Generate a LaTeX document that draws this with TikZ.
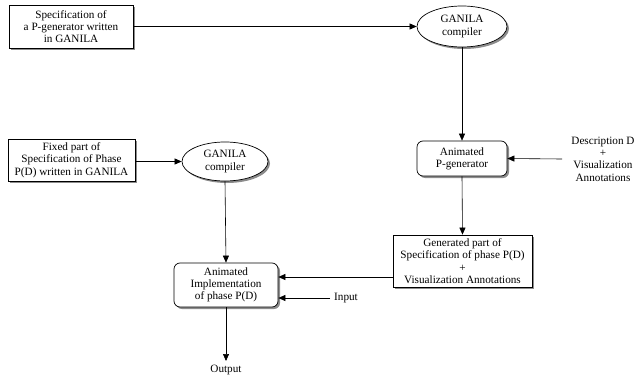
\documentclass[tikz,border=0pt]{standalone}
\usepackage{fontspec}
\setmainfont{Liberation Serif}
\usetikzlibrary{shapes.geometric,arrows.meta,shadows}
\begin{document}
\begin{tikzpicture}[x=1pt,y=-1pt,
  base/.style={font=\fontsize{11.2}{12.3}\selectfont, align=center, inner sep=0pt},
  shad/.style={drop shadow={shadow xshift=2pt,shadow yshift=-2pt,fill=black!45,opacity=1}},
  sqbox/.style={base, draw, line width=0.7pt, fill=white, shad},
  rbox/.style={sqbox, rounded corners=6pt},
  oval/.style={base, ellipse, draw, line width=0.7pt, fill=white, shad},
  arr/.style={-{Triangle[length=7pt,width=6pt]}, line width=0.6pt}
]
\useasboundingbox (0,0) rectangle (636,377);
\node[sqbox, minimum width=124pt, minimum height=43pt] (spec) at (71,26.5) {Specification of\\a P-generator written\\in GANILA};
\node[oval, minimum width=90pt, minimum height=41pt] (comp1) at (462,26.5) {GANILA\\compiler};
\node[rbox, minimum width=90pt, minimum height=35pt] (pgen) at (462,158.5) {Animated\\P-generator};
\node[base] (desc) at (603,159) {Description D\\+\\Visualization\\Annotations};
\coordinate (dstart) at (562,159);
\node[sqbox, minimum width=139pt, minimum height=52pt] (gen) at (462.5,261) {Generated part of\\Specification of phase P(D)\\+\\Visualization Annotations};
\node[sqbox, minimum width=127pt, minimum height=42pt] (fixed) at (71.5,160) {Fixed part of\\Specification of Phase\\P(D) written in GANILA};
\node[oval, minimum width=86pt, minimum height=39pt] (comp2) at (225,161.5) {GANILA\\compiler};
\node[rbox, minimum width=104pt, minimum height=44pt] (impl) at (226,285) {Animated\\Implementation\\of phase P(D)};
\coordinate (gy) at (0,277);
\coordinate (inp) at (330,298);
\node[base, anchor=west] (inlab) at (334,298) {Input};
\node[base, anchor=north, outer sep=4pt] (out) at (226,361) {Output};

\draw[arr] (spec.east) -- (comp1.west);
\draw[arr] (comp1.south) -- (pgen.north);
\draw[arr] (dstart) -- (pgen.east);
\draw[arr] (pgen.south) -- (gen.north);
\draw[arr] (gen.west |- gy) -- (impl.east |- gy);
\draw[arr] (fixed.east |- comp2.west) -- (comp2.west);
\draw[arr] (comp2.south) -- (impl.north);
\draw[arr] (inp) -- (impl.east |- inp);
\draw[arr] (impl.south) -- (out.north);
\end{tikzpicture}
\end{document}
